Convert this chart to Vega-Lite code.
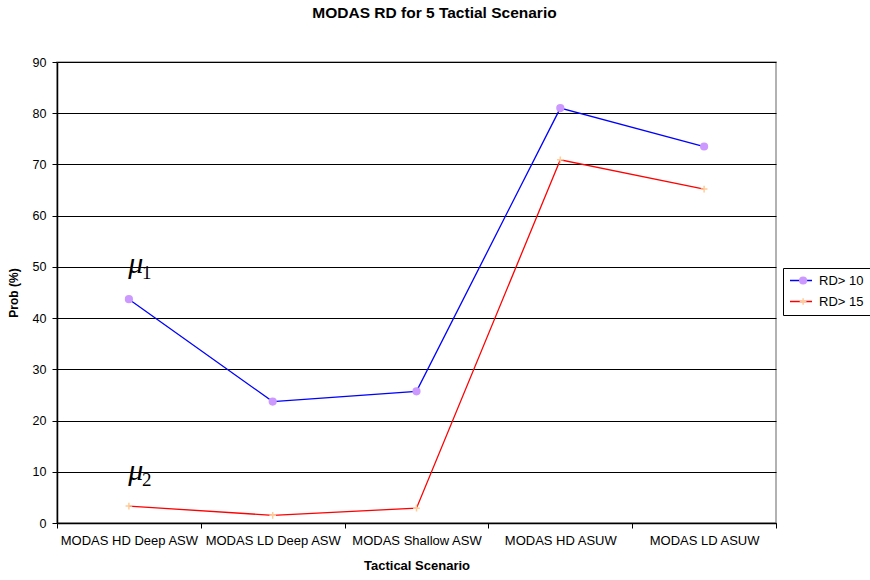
{
  "$schema": "https://vega.github.io/schema/vega-lite/v6.json",
  "width": 719,
  "height": 461,
  "autosize": {"type": "none"},
  "padding": {"left": 57, "top": 62, "right": 94, "bottom": 57},
  "background": "white",
  "config": {
    "font": "Liberation Sans",
    "view": {"stroke": "#999999", "strokeWidth": 1.5}
  },
  "title": {
    "text": "MODAS RD for 5 Tactial Scenario",
    "fontSize": 15.5,
    "fontWeight": "bold",
    "font": "Liberation Sans",
    "color": "#000",
    "anchor": "middle",
    "offset": 35,
    "dx": 18
  },
  "datasets": {
    "main": [
      {"scenario": "MODAS HD Deep ASW", "series": "RD> 10", "marker": "RD> 10", "value": 43.7},
      {"scenario": "MODAS LD Deep ASW", "series": "RD> 10", "marker": "RD> 10", "value": 23.7},
      {"scenario": "MODAS Shallow ASW", "series": "RD> 10", "marker": "RD> 10", "value": 25.7},
      {"scenario": "MODAS HD ASUW", "series": "RD> 10", "marker": "RD> 10", "value": 81.0},
      {"scenario": "MODAS LD ASUW", "series": "RD> 10", "marker": "RD> 10", "value": 73.5},
      {"scenario": "MODAS HD Deep ASW", "series": "RD> 15", "marker": "RD> 15", "value": 3.3},
      {"scenario": "MODAS LD Deep ASW", "series": "RD> 15", "marker": "RD> 15", "value": 1.5},
      {"scenario": "MODAS Shallow ASW", "series": "RD> 15", "marker": "RD> 15", "value": 2.9},
      {"scenario": "MODAS HD ASUW", "series": "RD> 15", "marker": "RD> 15", "value": 70.9},
      {"scenario": "MODAS LD ASUW", "series": "RD> 15", "marker": "RD> 15", "value": 65.2}
    ],
    "notes": [
      {"scenario": "MODAS HD Deep ASW", "value": 48.8, "label": "μ", "sub": "1"},
      {"scenario": "MODAS HD Deep ASW", "value": 8.4, "label": "μ", "sub": "2"}
    ]
  },
  "layer": [
    {
      "data": {"name": "main"},
      "mark": {"type": "line", "strokeWidth": 1.3},
      "encoding": {
        "x": {
          "field": "scenario", "type": "nominal", "sort": null,
          "scale": {"paddingInner": 0, "paddingOuter": 0},
          "axis": {
            "title": "Tactical Scenario",
            "titleFontSize": 13, "titleFontWeight": "bold", "titleColor": "#000",
            "titlePadding": 12,
            "labelAngle": 0, "labelFontSize": 13, "labelColor": "#000",
            "labelPadding": 6,
            "tickBand": "extent", "tickSize": 5, "tickColor": "#000",
            "domainColor": "#000", "domainWidth": 1.5, "grid": false
          }
        },
        "y": {
          "field": "value", "type": "quantitative",
          "scale": {"domain": [0, 90], "nice": false},
          "axis": {
            "title": "Prob (%)",
            "titleFontSize": 12, "titleFontWeight": "bold", "titleColor": "#000",
            "titlePadding": 12,
            "values": [0, 10, 20, 30, 40, 50, 60, 70, 80, 90],
            "labelFontSize": 12.5, "labelColor": "#000", "labelPadding": 6,
            "tickSize": 5, "tickColor": "#000",
            "domainColor": "#000", "domainWidth": 1.5,
            "grid": true, "gridColor": "#000", "gridWidth": 1
          }
        },
        "color": {
          "field": "series", "type": "nominal",
          "scale": {"domain": ["RD> 10", "RD> 15"], "range": ["#0000ff", "#ff0000"]},
          "legend": {
            "title": null,
            "orient": "none", "legendX": 726, "legendY": 206,
            "symbolType": "M-1,0H3", "symbolStrokeWidth": 1.5, "symbolSize": 121,
            "labelFontSize": 13, "labelColor": "#000", "labelOffset": 17,
            "strokeColor": "#000", "padding": 6, "rowPadding": 7
          }
        }
      }
    },
    {
      "data": {"name": "main"},
      "mark": {"type": "point", "filled": false, "strokeWidth": 1.5, "opacity": 1, "size": 45},
      "encoding": {
        "x": {"field": "scenario", "type": "nominal", "sort": null},
        "y": {"field": "value", "type": "quantitative"},
        "stroke": {
          "field": "marker", "type": "nominal",
          "scale": {"range": ["#cc99ff", "#ffcc99"]},
          "legend": {
            "title": null,
            "orient": "none", "legendX": 733.6, "legendY": 206,
            "symbolSize": 45, "symbolStrokeWidth": 1.5,
            "labelExpr": "''", "labelFontSize": 13, "labelOffset": 0,
            "padding": 6, "rowPadding": 7
          }
        },
        "fill": {
          "field": "marker", "type": "nominal",
          "scale": {"range": ["#cc99ff", "transparent"]},
          "legend": {
            "title": null,
            "orient": "none", "legendX": 733.6, "legendY": 206,
            "symbolSize": 45, "symbolStrokeWidth": 1.5,
            "labelExpr": "''", "labelFontSize": 13, "labelOffset": 0,
            "padding": 6, "rowPadding": 7
          }
        },
        "shape": {
          "field": "marker", "type": "nominal",
          "scale": {"range": ["circle", "M-1,0H1M0,-1V1"]},
          "legend": {
            "title": null,
            "orient": "none", "legendX": 733.6, "legendY": 206,
            "symbolSize": 45, "symbolStrokeWidth": 1.5,
            "labelExpr": "''", "labelFontSize": 13, "labelOffset": 0,
            "padding": 6, "rowPadding": 7
          }
        }
      }
    },
    {
      "data": {"name": "notes"},
      "mark": {"type": "text", "font": "Liberation Serif", "fontStyle": "italic", "fontSize": 30, "color": "#000", "baseline": "alphabetic", "align": "center", "dx": 7},
      "encoding": {
        "x": {"field": "scenario", "type": "nominal", "sort": null},
        "y": {"field": "value", "type": "quantitative"},
        "text": {"field": "label"}
      }
    },
    {
      "data": {"name": "notes"},
      "mark": {"type": "text", "font": "Liberation Serif", "fontSize": 19, "color": "#000", "baseline": "alphabetic", "align": "left", "dx": 13, "dy": 6},
      "encoding": {
        "x": {"field": "scenario", "type": "nominal", "sort": null},
        "y": {"field": "value", "type": "quantitative"},
        "text": {"field": "sub"}
      }
    }
  ]
}
